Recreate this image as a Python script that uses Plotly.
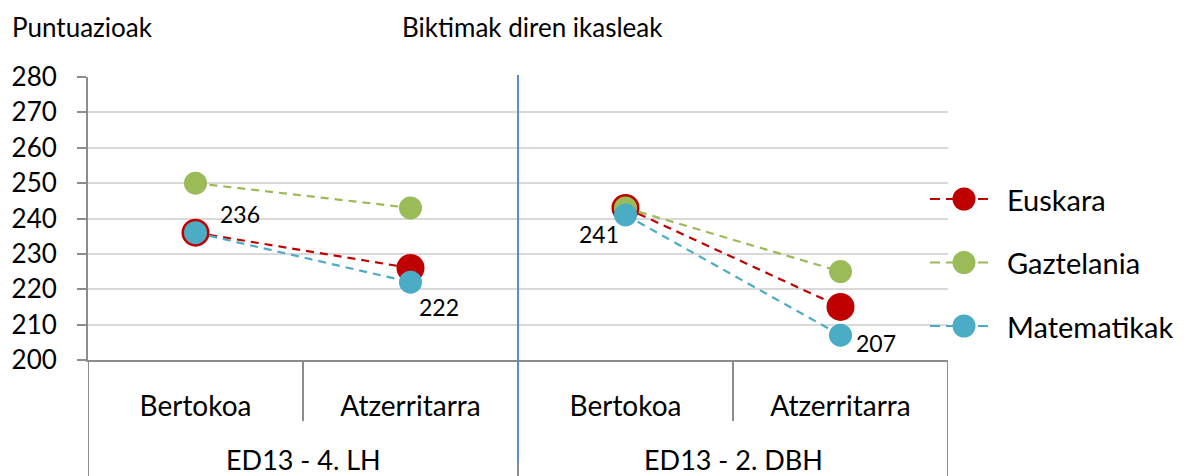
import plotly.graph_objects as go

# Categories
groups = ["ED13 - 4. LH", "ED13 - 2. DBH"]
origins = ["Bertokoa", "Atzerritarra"]
tick_labels = ["Bertokoa", "Atzerritarra", "Bertokoa", "Atzerritarra"]

# Scores per subject (LH Bertokoa, LH Atzerritarra, DBH Bertokoa, DBH Atzerritarra)
euskara = [236, 226, 243, 215]
gaztelania = [250, 243, 243, 225]
matematikak = [236, 222, 241, 207]

y_ticks = [200, 210, 220, 230, 240, 250, 260, 270, 280]

FONT = "Lato"
W, H = 1189, 476
L, R, T, B = 88, 241, 77, 116
plot_w = W - L - R
plot_h = H - T - B

series = [
    ("Euskara", euskara, "#C00000", 28),
    ("Gaztelania", gaztelania, "#9BBB59", 23),
    ("Matematikak", matematikak, "#4BACC6", 23),
]

fig = go.Figure()
xs = list(range(len(tick_labels)))
for name, vals, color, size in series:
    # one trace per school level so the lines do not join across levels
    for g in range(len(groups)):
        idx = [g * len(origins) + k for k in range(len(origins))]
        fig.add_trace(go.Scatter(
            x=[xs[i] for i in idx], y=[vals[i] for i in idx],
            mode="lines+markers", name=name, legendgroup=name,
            showlegend=False,
            line=dict(color=color, width=2.2, dash="8px,6px"),
            marker=dict(color=color, size=size, line=dict(width=0)),
            cliponaxis=False,
        ))


def px_x(p):
    return (p - L) / plot_w


def px_y(p):
    return (H - B - p) / plot_h


shapes = []
annotations = []

# Category dividers below the axis
axis_grey = "#8C8C8C"
for xv, bottom in [(-0.5, 476), (0.5, 421), (1.5, 476), (2.5, 421), (3.5, 476)]:
    shapes.append(dict(type="line", xref="x", yref="paper", x0=xv, x1=xv,
                       y0=0, y1=px_y(bottom), line=dict(color=axis_grey, width=2)))
# Separator between school levels
shapes.append(dict(type="line", xref="x", yref="paper", x0=1.5, x1=1.5,
                   y0=px_y(75), y1=px_y(462), line=dict(color="#5B8BD0", width=2)))

# Group labels
for g, label in enumerate(groups):
    annotations.append(dict(x=g * 2 + 0.5, y=px_y(459), xref="x", yref="paper",
                            text=label, showarrow=False, yanchor="middle",
                            font=dict(family=FONT, size=27, color="#000000")))

# Value labels for Matematikak
label_offsets = [(44, 19), (28, -25), (-27, -19), (35, -8)]
for i, (dx, dy) in enumerate(label_offsets):
    annotations.append(dict(x=xs[i], y=matematikak[i], xref="x", yref="y",
                            text=str(matematikak[i]), showarrow=False,
                            xshift=dx, yshift=dy,
                            font=dict(family=FONT, size=23, color="#000000")))

# Titles
annotations.append(dict(x=px_x(10), y=px_y(27), xref="paper", yref="paper",
                        text="Puntuazioak", showarrow=False, xanchor="left",
                        yanchor="middle", font=dict(family=FONT, size=26, color="#000000")))
annotations.append(dict(x=px_x(400), y=px_y(27), xref="paper", yref="paper",
                        text="Biktimak diren ikasleak", showarrow=False, xanchor="left",
                        yanchor="middle", font=dict(family=FONT, size=26, color="#000000")))

# Legend
for k, (name, vals, color, size) in enumerate(series):
    ly = px_y(199 + k * 63.5)
    shapes.append(dict(type="line", xref="paper", yref="paper",
                       x0=px_x(930), x1=px_x(994), y0=ly, y1=ly,
                       line=dict(color=color, width=2.2, dash="10px,6px")))
    shapes.append(dict(type="circle", xref="paper", yref="paper",
                       xsizemode="pixel", ysizemode="pixel",
                       xanchor=px_x(964), yanchor=ly,
                       x0=-11.5, x1=11.5, y0=-11.5, y1=11.5,
                       fillcolor=color, line=dict(width=0)))
    annotations.append(dict(x=px_x(1005), y=ly, xref="paper", yref="paper",
                            text=name, showarrow=False, xanchor="left",
                            yanchor="middle",
                            font=dict(family=FONT, size=29, color="#000000")))

fig.update_layout(
    width=W, height=H,
    margin=dict(l=L, r=R, t=T, b=B, pad=0),
    paper_bgcolor="white", plot_bgcolor="white",
    showlegend=False,
    shapes=shapes, annotations=annotations,
    xaxis=dict(range=[-0.5, 3.5], tickvals=xs, ticktext=tick_labels,
               automargin=False,
               showgrid=False, zeroline=False, showline=True,
               linecolor=axis_grey, linewidth=2, ticks="",
               ticklabelstandoff=20,
               tickfont=dict(family=FONT, size=28, color="#000000")),
    yaxis=dict(range=[200, 280], tickvals=y_ticks, automargin=False,
               showgrid=True, gridcolor="#D9D9D9", gridwidth=1.5,
               zeroline=False, showline=True, linecolor=axis_grey, linewidth=2,
               ticks="outside", ticklen=9, tickcolor=axis_grey, tickwidth=2,
               ticklabelstandoff=15,
               tickfont=dict(family=FONT, size=26, color="#000000")),
)

fig.write_html("out.html")
